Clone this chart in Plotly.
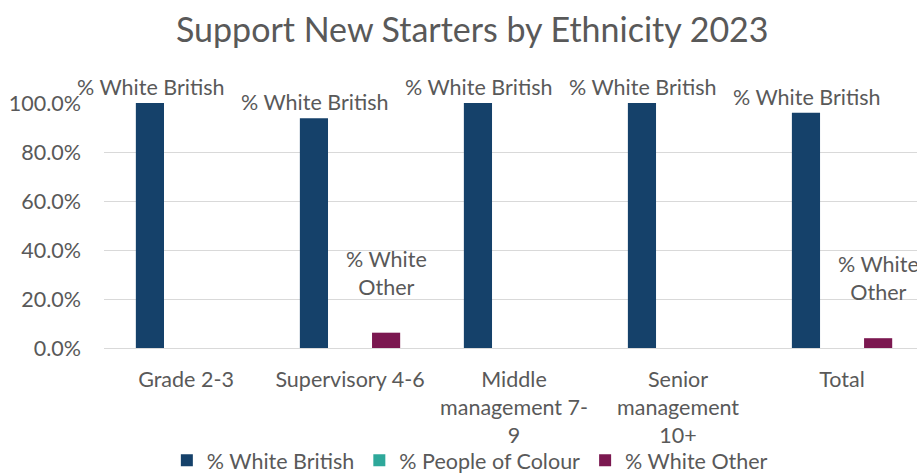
import plotly.graph_objects as go

# Category axis and the three ethnicity series (percent of new starters)
categories = ["Grade 2-3", "Supervisory 4-6", "Middle management 7-9",
              "Senior management 10+", "Total"]
tick_labels = ["Grade 2-3", "Supervisory 4-6", "Middle<br>management 7-<br>9",
               "Senior<br>management<br>10+", "Total"]
white_british = [100.0, 93.75, 100.0, 100.0, 96.0]
people_of_colour = [0.0, 0.0, 0.0, 0.0, 0.0]
white_other = [0.0, 6.25, 0.0, 0.0, 4.0]

series = [
    ("% White British", white_british, "#15416A"),
    ("% People of Colour", people_of_colour, "#2EA89A"),
    ("% White Other", white_other, "#7B1850"),
]

FONT = "Lato"
GREY = "#595959"
TXT = 21.5

fig = go.Figure()
for name, vals, colour in series:
    fig.add_trace(go.Bar(
        name=name, x=categories, y=vals,
        marker=dict(color=colour, line=dict(width=0)),
        cliponaxis=False,
    ))

# Series-name data labels above the non-zero bars
annotations = []
slot_px = 36  # horizontal distance between neighbouring bars in a group
for i, cat in enumerate(categories):
    v = white_british[i]
    if v > 0:
        annotations.append(dict(
            x=cat, y=v, xref="x", yref="y", text="% White British",
            showarrow=False, xshift=-slot_px, yshift=1, yanchor="bottom",
            font=dict(family=FONT, size=TXT, color=GREY)))
    v = white_other[i]
    if v > 0:
        annotations.append(dict(
            x=cat, y=v, xref="x", yref="y", text="% White<br>Other",
            showarrow=False, xshift=slot_px, yshift=31, yanchor="bottom",
            font=dict(family=FONT, size=TXT, color=GREY)))

fig.update_layout(
    width=917, height=475,
    margin=dict(l=104, r=0, t=103, b=127, autoexpand=False),
    paper_bgcolor="white", plot_bgcolor="white",
    barmode="group", bargap=0.34, bargroupgap=0.22,
    title=dict(text="Support New Starters by Ethnicity 2023",
               x=0.515, xanchor="center", y=0.937, yanchor="middle",
               font=dict(family=FONT, size=34, color=GREY)),
    font=dict(family=FONT, size=TXT, color=GREY),
    legend=dict(orientation="h", x=0.45, xanchor="center", y=-0.458,
                yanchor="middle", bgcolor="rgba(0,0,0,0)",
                font=dict(family=FONT, size=TXT, color=GREY),
                itemwidth=30, traceorder="normal"),
    annotations=annotations,
    showlegend=True,
)
fig.update_xaxes(
    tickvals=categories, ticktext=tick_labels, range=[-0.5, 4.457],
    showgrid=False, showline=True, linecolor="#D9D9D9", linewidth=1,
    ticks="", ticklabelstandoff=12, automargin=False,
    tickfont=dict(family=FONT, size=TXT, color=GREY),
)
fig.update_yaxes(
    range=[0, 100], dtick=20, tickformat=".1f", ticksuffix="%",
    showgrid=True, gridcolor="#D9D9D9", gridwidth=1,
    zeroline=True, zerolinecolor="#D9D9D9", zerolinewidth=1, automargin=False,
    ticklabelstandoff=22, tickfont=dict(family=FONT, size=TXT, color=GREY),
)

fig.write_html("out.html")
